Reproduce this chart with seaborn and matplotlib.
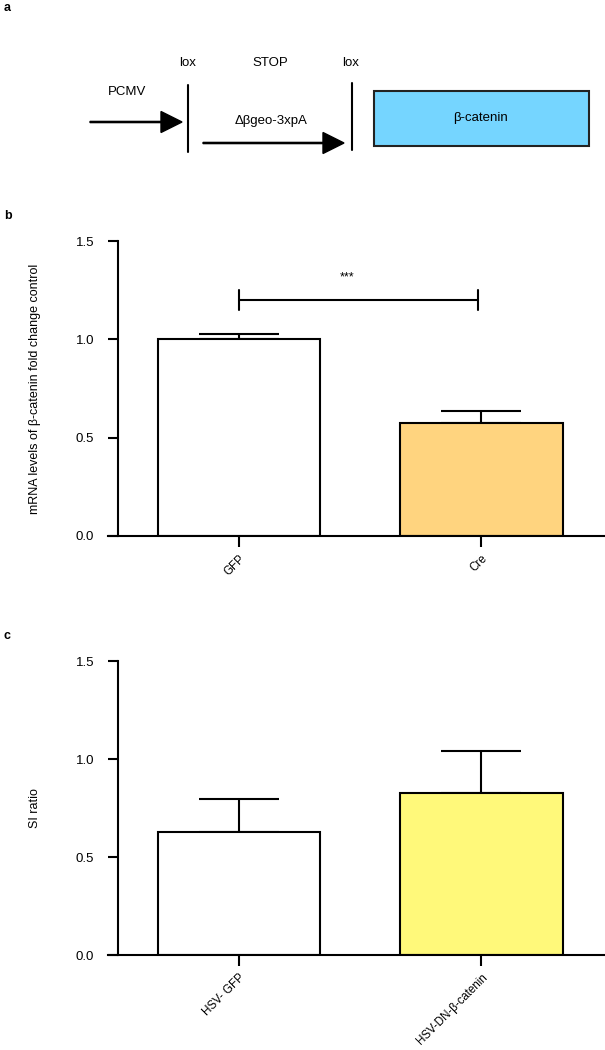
import pandas as pd
import matplotlib.pyplot as plt
import seaborn as sns

# panel b data
b_groups = ['GFP', 'Cre']
b_means = [1.0, 0.575]
b_err = [0.027, 0.06]
b_colors = ['#FFFFFF', '#FFD47F']

# panel c data
c_groups = ['HSV- GFP', 'HSV-DN-\u03b2-catenin']
c_means = [0.627, 0.824]
c_err = [0.168, 0.216]
c_colors = ['#FFFFFF', '#FFF97A']

sns.set_style("ticks", {'text.color': 'black', 'axes.labelcolor': 'black',
                        'xtick.color': 'black', 'ytick.color': 'black',
                        'axes.edgecolor': 'black'})
plt.rcParams['font.family'] = ['Liberation Sans', 'DejaVu Sans']

fig = plt.figure(figsize=(6.05, 10.5), dpi=100)

# Panel a: construct schematic, drawn in pixel coords
bg = fig.add_axes([0, 0, 1, 1])
bg.set_xlim(0, 605)
bg.set_ylim(1050, 0)
bg.axis('off')
bg.text(4, 8, 'a', fontsize=9, fontweight='bold', va='center')
bg.text(4, 216, 'b', fontsize=9, fontweight='bold', va='center')
bg.text(4, 636, 'c', fontsize=9, fontweight='bold', va='center')

bg.text(188, 63, 'lox', fontsize=9.5, ha='center', va='center')
bg.text(270, 63, 'STOP', fontsize=9.5, ha='center', va='center')
bg.text(351, 63, 'lox', fontsize=9.5, ha='center', va='center')
bg.text(127, 92, 'PCMV', fontsize=9.5, ha='center', va='center')
bg.text(271, 121, '\u0394\u03b2geo-3xpA', fontsize=9.5, ha='center', va='center')
bg.arrow(90, 122, 92, 0, width=1.2, head_width=21, head_length=21,
         length_includes_head=True, color='black')
bg.arrow(203, 143, 141, 0, width=1.2, head_width=21, head_length=21,
         length_includes_head=True, color='black')
bg.plot([188, 188], [85, 152], color='black', lw=1.5)
bg.plot([352, 352], [83, 150], color='black', lw=1.5)
bg.add_patch(plt.Rectangle((374, 91), 215, 55, facecolor='#75D5FF',
                           edgecolor='#222222', lw=1.5))
bg.text(481, 118, '\u03b2-catenin', fontsize=9.5, ha='center', va='center')


def bar_panel(rect, groups, means, errs, colors, ylabel):
    ax = fig.add_axes(rect)
    df = pd.DataFrame({'group': groups, 'mean': means})
    ax.errorbar(range(len(groups)), means, yerr=[[0] * len(errs), errs],
                fmt='none', ecolor='black', elinewidth=1.5, capsize=29,
                capthick=1.5, zorder=1)
    sns.barplot(data=df, x='group', y='mean', hue='group', palette=colors,
                saturation=1, width=0.67, edgecolor='black', linewidth=1.5,
                legend=False, ax=ax, zorder=2)
    ax.set_xlim(-0.54, 1.51)
    ax.set_ylim(0, 1.5)
    ax.spines['left'].set_position(('data', -0.5))
    ax.spines['right'].set_visible(False)
    ax.spines['top'].set_visible(False)
    for s in ['left', 'bottom']:
        ax.spines[s].set_linewidth(1.5)
    ax.set_yticks([0, 0.5, 1.0, 1.5])
    ax.set_yticklabels(['0.0', '0.5', '1.0', '1.5'])
    ax.tick_params(axis='y', length=7, width=1.5, labelsize=9.5, pad=10)
    ax.tick_params(axis='x', length=8, width=1.5, labelsize=8.3, pad=4)
    plt.setp(ax.get_xticklabels(), rotation=45, ha='right',
             rotation_mode='anchor')
    ax.set_xlabel('')
    ax.set_ylabel(ylabel, fontsize=9)
    ax.yaxis.set_label_coords(-0.135, 0.5)
    return ax


ax_b = bar_panel([108 / 605, 1 - 536 / 1050, 497 / 605, 295 / 1050],
                 b_groups, b_means, b_err, b_colors,
                 'mRNA levels of \u03b2-catenin fold change control')
ax_b.plot([0, 0], [1.15, 1.25], color='black', lw=1.5)
ax_b.plot([0.985, 0.985], [1.15, 1.25], color='black', lw=1.5)
ax_b.plot([0, 0.985], [1.2, 1.2], color='black', lw=1.5)
ax_b.text(0.445, 1.285, '***', fontsize=9, ha='center', va='bottom')

ax_c = bar_panel([108 / 605, 1 - 955 / 1050, 497 / 605, 294 / 1050],
                 c_groups, c_means, c_err, c_colors, 'SI ratio')

fig.savefig('out.png', dpi=100)
